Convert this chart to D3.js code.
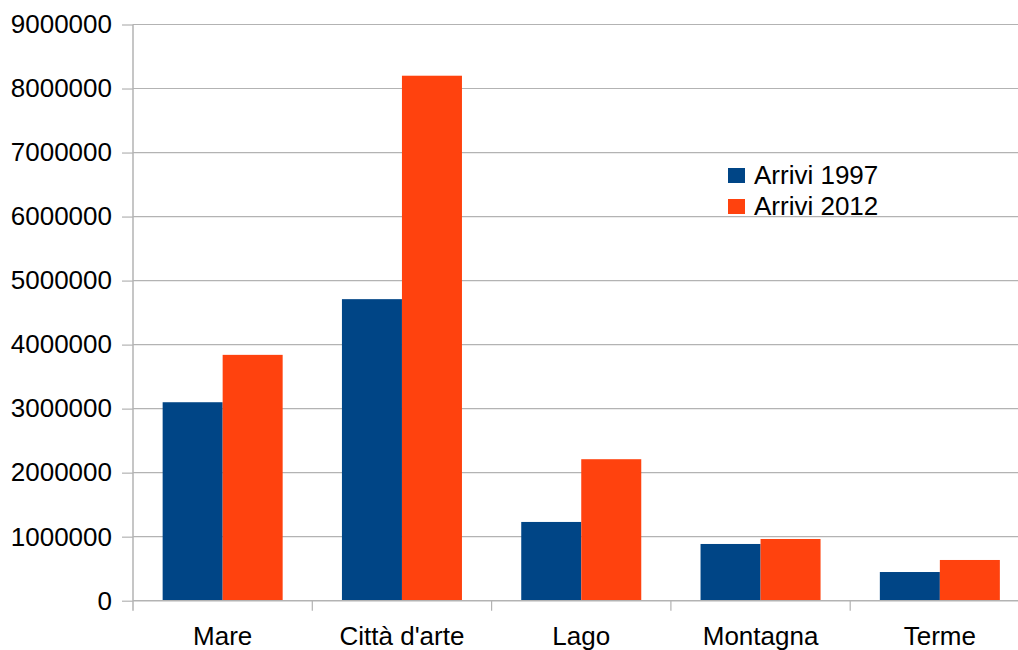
<!DOCTYPE html>
<html>
<head>
<meta charset="utf-8">
<script src="https://cdn.jsdelivr.net/npm/d3@7"></script>
<style>
  html, body { margin: 0; padding: 0; background: #fff; }
  svg { display: block; }
  text { font-family: "Liberation Sans", Arial, sans-serif; fill: #000; }
</style>
</head>
<body>
<svg id="chart" width="1018" height="650"></svg>
<script>
// Tourist arrivals by destination type
const categories = ["Mare", "Città d'arte", "Lago", "Montagna", "Terme"];
const seriesNames = ["Arrivi 1997", "Arrivi 2012"];
const arrivi1997 = [3100000, 4710000, 1230000, 886000, 448000];
const arrivi2012 = [3840000, 8200000, 2210000, 964000, 636000];
const yTicks = [0, 1000000, 2000000, 3000000, 4000000, 5000000, 6000000, 7000000, 8000000, 9000000];
const colors = ["#004586", "#ff420e"];

(function () {
  const seriesValues = [arrivi1997, arrivi2012];
  const rows = categories.map((c, i) => ({
    category: c,
    values: seriesNames.map((s, j) => ({ series: s, value: seriesValues[j][i] }))
  }));

  const svg = d3.select("#chart");
  const plotLeft = 133, plotTop = 24.5, plotBottom = 600.7;
  const catStep = 179.3;
  const plotRight = plotLeft + catStep * categories.length;

  const x = d3.scaleBand().domain(categories).range([plotLeft, plotRight]).padding(0);
  const xs = d3.scaleBand().domain(seriesNames).range([0, x.bandwidth()])
    .paddingInner(0).paddingOuter(0.494);
  const y = d3.scaleLinear().domain([0, 9000000]).range([plotBottom, plotTop]);

  const gridColor = "#b3b3b3";

  // horizontal grid lines
  svg.append("g").selectAll("line").data(yTicks.slice(1)).join("line")
    .attr("x1", plotLeft).attr("x2", plotRight)
    .attr("y1", d => y(d)).attr("y2", d => y(d))
    .attr("stroke", gridColor).attr("stroke-width", 1.2);

  // bars
  const groups = svg.append("g").selectAll("g").data(rows).join("g")
    .attr("transform", d => `translate(${x(d.category)},0)`);
  groups.selectAll("rect").data(d => d.values).join("rect")
    .attr("x", d => xs(d.series))
    .attr("width", xs.bandwidth())
    .attr("y", d => y(d.value))
    .attr("height", d => y(0) - y(d.value))
    .attr("fill", (d, i) => colors[i]);

  // y axis
  const yAxis = d3.axisLeft(y).tickValues(yTicks).tickFormat(d3.format("d"))
    .tickSize(11).tickPadding(10);
  const gy = svg.append("g").attr("transform", `translate(${plotLeft},0)`).call(yAxis);
  gy.select(".domain").attr("stroke", gridColor).attr("stroke-width", 1.5)
    .attr("d", `M0,${plotTop}V${plotBottom + 10}`);
  gy.selectAll(".tick line").attr("stroke", gridColor).attr("stroke-width", 1.2);
  gy.selectAll(".tick text").style("font-size", "26px")
    .style("font-family", "'Liberation Sans', Arial, sans-serif").attr("fill", "#000");

  // x axis: ticks at category boundaries, labels centered
  const gx = svg.append("g").attr("transform", `translate(0,${plotBottom})`);
  gx.append("line").attr("x1", plotLeft).attr("x2", plotRight).attr("y1", 0).attr("y2", 0)
    .attr("stroke", gridColor).attr("stroke-width", 1.5);
  gx.selectAll("line.tk").data(categories.slice(1)).join("line").attr("class", "tk")
    .attr("x1", d => x(d)).attr("x2", d => x(d)).attr("y1", 0).attr("y2", 10)
    .attr("stroke", gridColor).attr("stroke-width", 1.2);
  gx.selectAll("text").data(categories).join("text")
    .attr("x", d => x(d) + x.bandwidth() / 2)
    .attr("y", 44)
    .attr("text-anchor", "middle")
    .style("font-size", "26px")
    .text(d => d);

  // legend
  const legend = svg.append("g").attr("transform", "translate(728,168)");
  const li = legend.selectAll("g").data(seriesNames).join("g")
    .attr("transform", (d, i) => `translate(0,${i * 31})`);
  li.append("rect").attr("width", 17).attr("height", 15).attr("fill", (d, i) => colors[i]);
  li.append("text").attr("x", 26).attr("y", 15.5).style("font-size", "26px").text(d => d);
})();
</script>
</body>
</html>
